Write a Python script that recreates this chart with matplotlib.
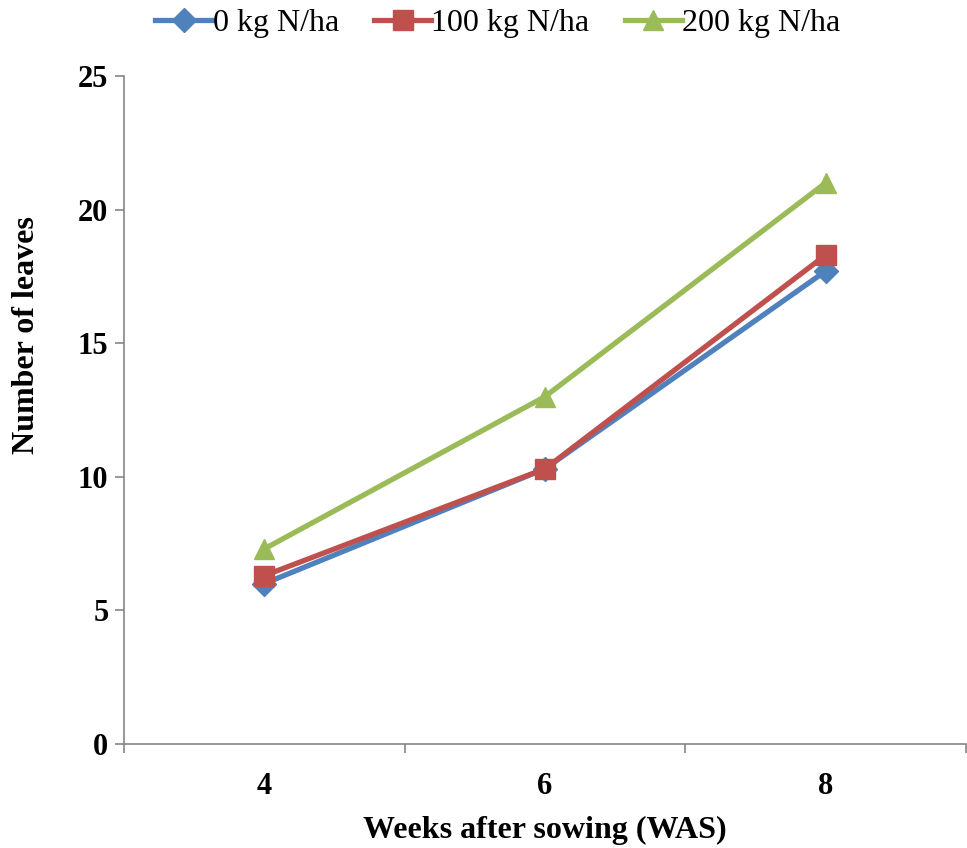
import numpy as np
import matplotlib.pyplot as plt

# number of leaves per plant at each sampling week
weeks = ['4', '6', '8']
leaves_0 = [6.0, 10.3, 17.7]
leaves_100 = [6.3, 10.3, 18.3]
leaves_200 = [7.3, 13.0, 21.0]

plt.rcParams['font.family'] = ['Liberation Serif', 'DejaVu Serif']

fig = plt.figure(figsize=(9.67, 8.48), dpi=100)
ax = fig.add_axes([0.128, 0.1226, 0.871, 0.7878])

x = np.arange(len(weeks))
ax.plot(x, leaves_0, color='#4F81BD', lw=3.8, marker='D', ms=12, label='0 kg N/ha')
ax.plot(x, leaves_100, color='#C0504D', lw=3.8, marker='s', ms=14, label='100 kg N/ha')
ax.plot(x, leaves_200, color='#9BBB59', lw=3.8, marker='^', ms=15, label='200 kg N/ha')

ax.set_xlim(-0.5, 2.5)
ax.set_ylim(0, 25)
ax.set_yticks([0, 5, 10, 15, 20, 25])
ax.set_xticks(x)
ax.set_xticklabels(weeks)
ax.set_xticks([-0.5, 0.5, 1.5, 2.5], minor=True)
ax.tick_params(axis='x', which='major', length=0, pad=20)
ax.tick_params(axis='x', which='minor', length=6.5, color='#868686', width=1.2)
ax.tick_params(axis='y', length=6.5, color='#868686', width=1.2, pad=4.5)
for lbl in ax.get_xticklabels() + ax.get_yticklabels():
    lbl.set_fontsize(22)
    lbl.set_fontweight('bold')

for s in ['top', 'right']:
    ax.spines[s].set_visible(False)
for s in ['left', 'bottom']:
    ax.spines[s].set_color('#868686')
    ax.spines[s].set_linewidth(1.2)

ax.set_xlabel('Weeks after sowing (WAS)', fontsize=23, fontweight='bold', labelpad=11)
ax.set_ylabel('Number of leaves', fontsize=23, fontweight='bold')
ax.yaxis.set_label_coords(-0.098, 0.612)

ax.legend(loc='lower center', bbox_to_anchor=(0.444, 1.018), ncol=3, frameon=False,
          fontsize=23, handlelength=1.8, columnspacing=1.1, handletextpad=0.0,
          borderaxespad=0.4)

plt.savefig('out.png', dpi=100)
